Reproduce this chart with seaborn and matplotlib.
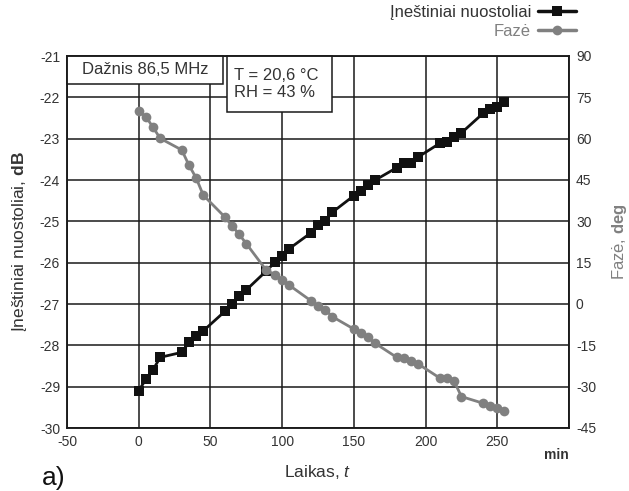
import matplotlib
matplotlib.use("Agg")
import matplotlib.pyplot as plt
import seaborn as sns
import pandas as pd
from matplotlib.lines import Line2D
from matplotlib.patches import Rectangle

# ---- data ----
time_min = [0, 5, 10, 15, 30, 35, 40, 45, 60, 65, 70, 75, 89, 95, 100, 105,
            120, 125, 130, 135, 150, 155, 160, 165, 180, 185, 190, 195,
            210, 215, 220, 225, 240, 245, 250, 255]
loss_db = [-29.10, -28.82, -28.59, -28.29, -28.17, -27.93, -27.77, -27.65,
           -27.18, -27.00, -26.80, -26.66, -26.20, -25.99, -25.83, -25.66,
           -25.28, -25.10, -24.99, -24.78, -24.38, -24.26, -24.13, -24.00,
           -23.70, -23.58, -23.58, -23.44, -23.11, -23.07, -22.97, -22.86,
           -22.39, -22.29, -22.23, -22.12]
phase_deg = [70.0, 68.0, 64.1, 60.1, 55.9, 50.4, 45.8, 39.5, 31.6, 28.4,
             25.3, 21.9, 12.2, 10.7, 8.8, 6.8, 1.2, -0.9, -2.0, -4.6, -9.1,
             -10.5, -12.1, -14.3, -19.4, -19.6, -20.6, -21.8, -26.9, -26.9,
             -28.1, -33.6, -36.0, -37.0, -37.8, -38.8]
x_ticks = [-50, 0, 50, 100, 150, 200, 250, 300]
x_tick_labels = ["-50", "0", "50", "100", "150", "200", "250", ""]
left_ticks = list(range(-30, -20))
right_ticks = list(range(-45, 91, 15))
series_names = ["Įneštiniai nuostoliai", "Fazė"]

df = pd.DataFrame({"t": time_min, "loss": loss_db, "phase": phase_deg})

sns.set_theme(style="white")
plt.rcParams["font.family"] = ["Liberation Sans", "DejaVu Sans"]
plt.rcParams["axes.unicode_minus"] = False
plt.rcParams["mathtext.fontset"] = "custom"
plt.rcParams["mathtext.rm"] = "Liberation Sans"
plt.rcParams["mathtext.it"] = "Liberation Sans:italic"
plt.rcParams["mathtext.bf"] = "Liberation Sans:bold"

BLACK = "#111111"
GRAY = "#808080"
TXT = "#333333"

fig = plt.figure(figsize=(6.29, 4.91), dpi=100)
ax = fig.add_axes([67 / 629, 1 - 428 / 491, 502 / 629, 372 / 491])
ax2 = ax.twinx()

sns.lineplot(data=df, x="t", y="loss", ax=ax, color=BLACK, lw=2,
             marker="s", markersize=6.5, markeredgewidth=0, zorder=3)
sns.lineplot(data=df, x="t", y="phase", ax=ax2, color=GRAY, lw=2,
             marker="o", markersize=7, markeredgewidth=0, zorder=3)

ax.set_xlim(-50, 300)
ax.set_ylim(-30, -21)
ax2.set_ylim(-45, 90)
ax.set_xticks(x_ticks)
ax.set_xticklabels(x_tick_labels)
ax.set_yticks(left_ticks)
ax.set_yticklabels([str(v) for v in left_ticks])
ax2.set_yticks(right_ticks)
ax2.set_yticklabels([str(v) for v in right_ticks])

ax.grid(True, color="#1a1a1a", lw=1.1)
ax.set_axisbelow(True)
for a in (ax, ax2):
    for s in a.spines.values():
        s.set_color("#1a1a1a")
        s.set_linewidth(1.1)
    a.tick_params(length=0, labelsize=10, colors=TXT, pad=5)

ax.set_xlabel("Laikas, $\\mathit{t}$", fontsize=12.5, color=TXT, labelpad=10)
ax.set_ylabel("Įneštiniai nuostoliai, $\\mathbf{dB}$", fontsize=12.5,
              color=TXT, labelpad=8)
ax2.set_ylabel("Fazė, $\\mathbf{deg}$", fontsize=12, color=GRAY,
               labelpad=10)

ax.text(1.0, -0.055, "min", transform=ax.transAxes, ha="right", va="top",
        fontsize=10, fontweight="bold", color=TXT)
fig.text(42 / 629, 1 - 490 / 491, "a)", fontsize=19, color="#111111",
         ha="left", va="bottom")

# info boxes
b1 = Rectangle((0.0, 0.925), 0.311, 0.075, transform=ax.transAxes,
               facecolor="white", edgecolor="#1a1a1a", lw=1.1, zorder=5,
               clip_on=False)
ax.add_patch(b1)
ax.text(0.1555, 0.9625, "Dažnis 86,5 MHz", transform=ax.transAxes,
        ha="center", va="center", fontsize=12, color=TXT, zorder=6)
b2 = Rectangle((0.319, 0.849), 0.209, 0.151, transform=ax.transAxes,
               facecolor="white", edgecolor="#1a1a1a", lw=1.1, zorder=5,
               clip_on=False)
ax.add_patch(b2)
ax.text(0.333, 0.925, "T = 20,6 °C\nRH = 43 %", transform=ax.transAxes,
        ha="left", va="center", fontsize=12, color=TXT, zorder=6,
        linespacing=1.15)

handles = [Line2D([], [], color=BLACK, lw=2.5, marker="s", ms=6.5, mew=0),
           Line2D([], [], color=GRAY, lw=2.5, marker="o", ms=7, mew=0)]
leg = fig.legend(handles, series_names, loc="upper right",
                 bbox_to_anchor=(576 / 629, 1 - 5 / 491), markerfirst=False,
                 frameon=False, fontsize=12, handlelength=2.3,
                 handletextpad=0.4, labelspacing=0.25, borderpad=0,
                 borderaxespad=0)
leg.get_texts()[0].set_color(TXT)
leg.get_texts()[1].set_color(GRAY)

fig.savefig("out.png", dpi=100)
